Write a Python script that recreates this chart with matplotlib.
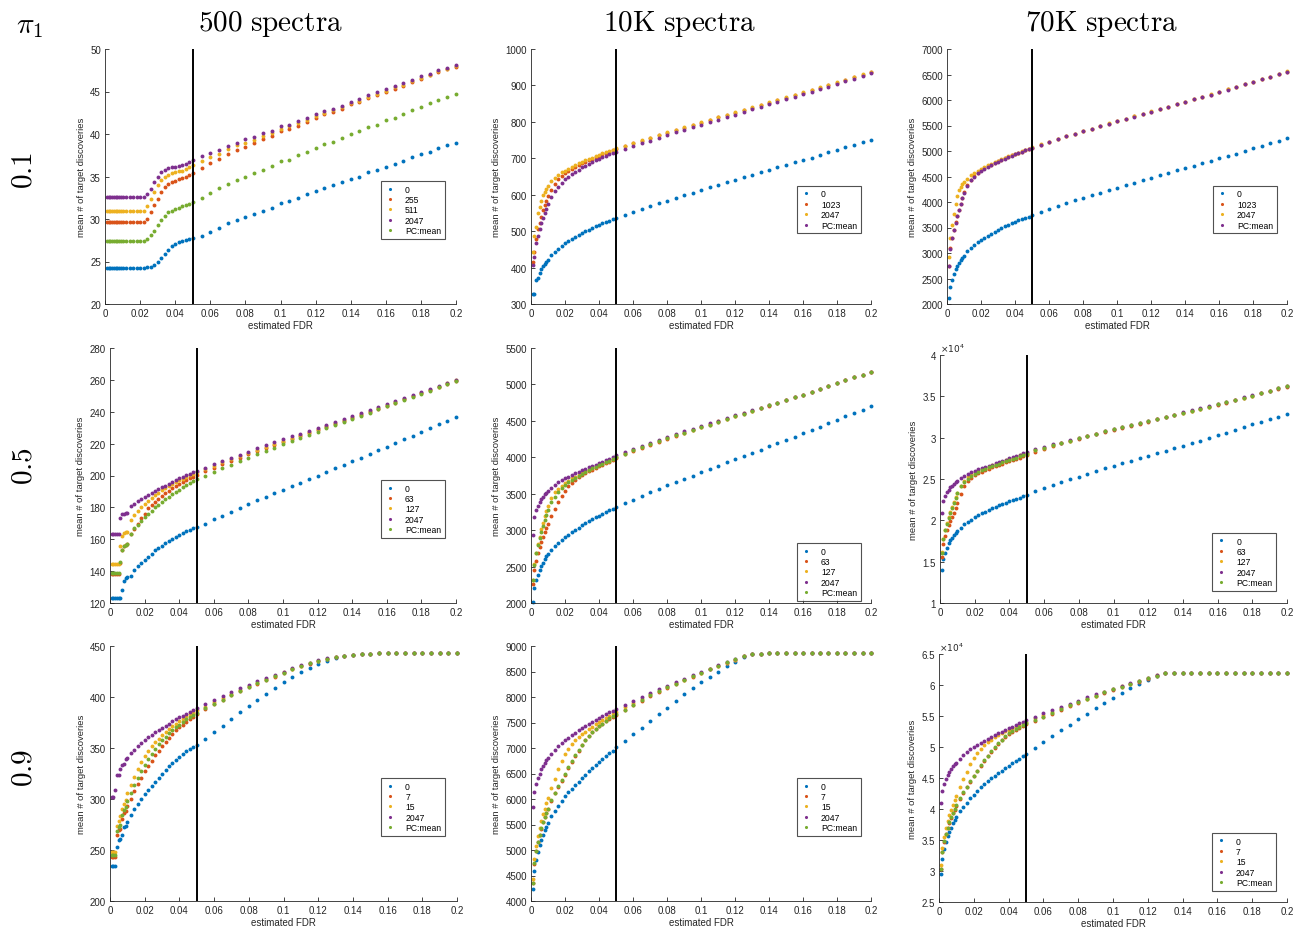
import matplotlib
matplotlib.use("Agg")
import matplotlib.pyplot as plt
from matplotlib.ticker import FuncFormatter

plt.rcParams['font.family'] = ['Liberation Sans', 'DejaVu Sans']
plt.rcParams['mathtext.fontset'] = 'cm'

# estimated FDR grid (x positions of every dot)
fdr = [0.001, 0.002, 0.003, 0.004, 0.005, 0.006, 0.007, 0.008, 0.009, 0.010,
       0.012, 0.014, 0.016, 0.018, 0.020, 0.022, 0.024, 0.026, 0.028, 0.030,
       0.032, 0.034, 0.036, 0.038, 0.040, 0.042, 0.044, 0.046, 0.048, 0.050,
       0.055, 0.060, 0.065, 0.070, 0.075, 0.080, 0.085, 0.090, 0.095, 0.100,
       0.105, 0.110, 0.115, 0.120, 0.125, 0.130, 0.135, 0.140, 0.145, 0.150,
       0.155, 0.160, 0.165, 0.170, 0.175, 0.180, 0.185, 0.190, 0.195, 0.200]

col_titles = ['500 spectra', '10K spectra', '70K spectra']
row_titles = ['0.1', '0.5', '0.9']
colors = ['#0072BD', '#D95319', '#EDB120', '#7E2F8E', '#77AC30']

# ---- 500 spectra, pi1 = 0.1 ----
leg_500_p1 = ['0', '255', '511', '2047', 'PC:mean']
s500_p1_0 = [24.2, 24.2, 24.2, 24.2, 24.2, 24.2, 24.2, 24.2, 24.2, 24.2,
             24.2, 24.2, 24.2, 24.2, 24.2, 24.2, 24.3, 24.4, 24.6, 24.9,
             25.4, 25.9, 26.4, 26.8, 27.1, 27.3, 27.4, 27.55, 27.7, 27.8,
             28.0, 28.5, 29.0, 29.5, 29.9, 30.2, 30.6, 31.0, 31.3, 31.9,
             32.1, 32.5, 32.9, 33.3, 33.7, 34.0, 34.3, 34.7, 35.0, 35.5,
             35.8, 36.1, 36.5, 36.8, 37.3, 37.7, 37.9, 38.3, 38.7, 38.9]
s500_p1_255 = [29.6, 29.6, 29.6, 29.6, 29.6, 29.6, 29.6, 29.6, 29.6, 29.6,
               29.6, 29.6, 29.6, 29.6, 29.6, 29.6, 30.0, 30.8, 31.6, 32.4,
               33.2, 33.8, 34.1, 34.3, 34.5, 34.7, 34.8, 35.0, 35.2, 35.4,
               36.0, 36.6, 37.1, 37.6, 38.1, 38.5, 38.9, 39.4, 39.8, 40.3,
               40.6, 41.0, 41.4, 41.9, 42.3, 42.6, 43.0, 43.5, 43.8, 44.2,
               44.6, 45.0, 45.3, 45.7, 46.1, 46.5, 46.9, 47.3, 47.6, 47.9]
s500_p1_511 = [30.9, 30.9, 30.9, 30.9, 30.9, 30.9, 30.9, 30.9, 30.9, 30.9,
               30.9, 30.9, 30.9, 30.9, 30.9, 30.9, 31.5, 32.3, 33.2, 34.0,
               34.6, 35.0, 35.2, 35.4, 35.5, 35.6, 35.7, 35.9, 36.1, 36.4,
               36.8, 37.3, 37.7, 38.2, 38.7, 39.0, 39.3, 39.8, 40.1, 40.6,
               40.9, 41.3, 41.7, 42.1, 42.5, 42.8, 43.2, 43.6, 43.9, 44.4,
               44.7, 45.1, 45.5, 45.8, 46.2, 46.6, 47.0, 47.4, 47.7, 48.0]
s500_p1_2047 = [32.6, 32.6, 32.6, 32.6, 32.6, 32.6, 32.6, 32.6, 32.6, 32.6,
                32.6, 32.6, 32.6, 32.6, 32.6, 32.6, 32.9, 33.5, 34.3, 35.0,
                35.5, 35.8, 36.0, 36.1, 36.1, 36.2, 36.3, 36.5, 36.7, 37.0,
                37.4, 37.8, 38.1, 38.6, 39.0, 39.4, 39.7, 40.1, 40.4, 40.9,
                41.1, 41.5, 41.9, 42.3, 42.7, 43.0, 43.3, 43.8, 44.1, 44.6,
                44.9, 45.3, 45.6, 46.0, 46.4, 46.8, 47.1, 47.5, 47.8, 48.1]
s500_p1_pc = [27.4, 27.4, 27.4, 27.4, 27.4, 27.4, 27.4, 27.4, 27.4, 27.4,
              27.4, 27.4, 27.4, 27.4, 27.4, 27.4, 27.6, 28.1, 28.6, 29.3,
              29.9, 30.4, 30.8, 31.0, 31.2, 31.3, 31.5, 31.6, 31.8, 32.0,
              32.5, 33.1, 33.6, 34.1, 34.6, 35.0, 35.4, 35.8, 36.2, 36.8,
              37.0, 37.5, 37.9, 38.4, 38.8, 39.1, 39.5, 40.0, 40.3, 40.8,
              41.1, 41.6, 41.9, 42.3, 42.8, 43.2, 43.6, 44.0, 44.4, 44.7]

# ---- 500 spectra, pi1 = 0.5 ----
leg_p5 = ['0', '63', '127', '2047', 'PC:mean']
s500_p5_0 = [123, 123, 123, 123, 123, 123, 128, 134, 136, 136.5,
             137, 140.5, 143.5, 145, 147, 149, 151, 153, 154.5, 156,
             157.5, 159, 160.3, 161.5, 162.8, 164, 165, 166, 166.8, 167.5,
             169.7, 172.4, 174.9, 177.3, 179.7, 182.2, 184.4, 186.6, 188.8, 191.1,
             193.3, 195.5, 197.7, 200.0, 202.3, 204.6, 206.8, 209.0, 211.2, 213.5,
             215.8, 218.0, 220.3, 222.7, 225.0, 227.4, 229.7, 232.1, 234.4, 236.8]
s500_p5_63 = [138, 138, 138, 138, 138, 145, 153, 156, 156.5, 157,
              163.5, 166.5, 169.5, 173.5, 176, 179.3, 181.5, 183.5, 185.4, 187.2,
              188.8, 190.4, 191.9, 193.3, 194.6, 195.9, 197.1, 198.2, 199.3, 200.3,
              202.6, 204.9, 207.0, 209.1, 211.2, 213.2, 215.2, 217.2, 219.1, 221.1,
              223.0, 224.9, 226.8, 228.7, 230.6, 232.5, 234.4, 236.3, 238.2, 240.1,
              242.0, 243.9, 245.8, 247.8, 249.7, 251.7, 253.6, 255.6, 257.6, 259.6]
s500_p5_127 = [144.3, 144.3, 144.3, 144.3, 144.3, 155.5, 162, 164, 164.4, 164.8,
               172, 175.5, 177.8, 180.2, 182.3, 184.2, 186, 187.6, 189.2, 190.6,
               192, 193.3, 194.6, 195.8, 197, 198.1, 199.1, 200.1, 201, 201.9,
               204.0, 206.2, 208.2, 210.2, 212.2, 214.2, 216.2, 218.1, 220.0, 221.9,
               223.8, 225.6, 227.4, 229.3, 231.1, 233.0, 234.8, 236.7, 238.5, 240.4,
               242.3, 244.2, 246.1, 248.0, 249.9, 251.9, 253.8, 255.8, 257.8, 259.8]
s500_p5_2047 = [163.5, 163.5, 163.5, 163.5, 163.5, 173.5, 175.8, 176, 176.2, 176.5,
                181, 182, 184, 185.5, 186.8, 188, 189.2, 190.3, 191.4, 192.5,
                193.6, 194.8, 196, 197.1, 198.2, 199.2, 200.1, 201, 201.9, 202.8,
                204.9, 207.0, 209.0, 211.0, 213.0, 215.0, 217.0, 218.9, 220.8, 222.7,
                224.5, 226.3, 228.1, 229.9, 231.7, 233.5, 235.3, 237.2, 239.0, 240.9,
                242.8, 244.6, 246.5, 248.4, 250.3, 252.3, 254.2, 256.2, 258.1, 260.1]
s500_p5_pc = [139, 139, 139, 139, 139, 146, 153.5, 156, 156.5, 157,
              163, 167, 169, 171.5, 174, 176, 178, 180, 181.8, 183.5,
              185.2, 186.8, 188.3, 189.8, 191.2, 192.6, 194, 195.3, 196.6, 197.8,
              200.0, 202.5, 204.7, 206.9, 209.0, 211.2, 213.3, 215.4, 217.4, 219.5,
              221.6, 223.6, 225.6, 227.6, 229.6, 231.6, 233.6, 235.6, 237.5, 239.5,
              241.5, 243.5, 245.4, 247.4, 249.4, 251.3, 253.3, 255.3, 257.3, 259.3]

# ---- 500 spectra, pi1 = 0.9 ----
leg_p9 = ['0', '7', '15', '2047', 'PC:mean']
s500_p9_0 = [234.5, 234.5, 234.5, 253, 260, 260.5, 265, 273, 274, 277.5,
             284, 290, 295, 300, 304.5, 309, 313, 317, 321, 325,
             328.5, 332, 335.5, 338.5, 341.5, 344.5, 347, 349, 350.5, 352.5,
             359, 365.5, 372, 378.5, 385, 391, 397, 403, 409, 414.5,
             419.5, 424.5, 428.5, 432.5, 435.5, 438, 440, 441, 442, 442.5,
             442.7, 442.7, 442.7, 442.7, 442.7, 442.7, 442.7, 442.7, 442.7, 442.7]
s500_p9_7 = [243, 243, 243, 265, 270, 271, 280, 286, 288, 293,
             300, 308, 315, 321, 327, 332.5, 337.5, 343, 347.5, 352,
             356, 360, 364, 367.5, 370.5, 373, 375.5, 378, 380.5, 383,
             388, 393, 397.5, 401.5, 405.5, 409.5, 413, 416.5, 420, 423.5,
             427, 430, 432.8, 435.3, 437.3, 439, 440.3, 441.2, 442, 442.5,
             442.7, 442.7, 442.7, 442.7, 442.7, 442.7, 442.7, 442.7, 442.7, 442.7]
s500_p9_15 = [248, 248, 248, 273.5, 278, 283, 290.5, 295.5, 299, 306,
              314, 322, 329.5, 336, 342, 347, 351.5, 355.5, 359, 362.5,
              365.5, 368.5, 371.5, 374, 376.5, 378.8, 381, 383, 385, 387,
              390.5, 395, 399, 403, 407, 410.5, 414, 417.5, 421, 424.5,
              427.5, 430.5, 433, 435.5, 437.5, 439, 440.3, 441.2, 442, 442.5,
              442.7, 442.7, 442.7, 442.7, 442.7, 442.7, 442.7, 442.7, 442.7, 442.7]
s500_p9_2047 = [302, 302, 309, 323.5, 324, 329, 333.5, 334, 339, 340.5,
                345, 348.5, 352, 355, 358, 360.5, 363, 365.5, 368, 370,
                372, 374, 376, 378, 380, 381.8, 383.6, 385.4, 387.2, 389,
                393, 397, 401, 405, 408.5, 412, 415.5, 418.5, 422, 425,
                428, 431, 433.5, 436, 438, 439.5, 440.5, 441.3, 442, 442.5,
                442.7, 442.7, 442.7, 442.7, 442.7, 442.7, 442.7, 442.7, 442.7, 442.7]
s500_p9_pc = [245, 245, 245, 269, 272.5, 275, 284.5, 289.5, 292.5, 298,
              305.5, 313.5, 321, 327.5, 333.5, 339, 344, 349, 353.5, 357.5,
              361, 364.5, 367.5, 370.5, 373, 375.5, 378, 380, 382, 384.5,
              389, 393.5, 397.5, 402, 406, 410, 413.5, 417, 420.5, 424,
              427.3, 430.3, 433, 435.5, 437.5, 439.2, 440.5, 441.3, 442, 442.5,
              442.7, 442.7, 442.7, 442.7, 442.7, 442.7, 442.7, 442.7, 442.7, 442.7]

# ---- 10K spectra, pi1 = 0.1 ----
leg_big_p1 = ['0', '1023', '2047', 'PC:mean']
s10k_p1_0 = [327, 327, 365, 372, 385, 396, 403, 410, 416, 422,
             434, 444, 452, 460, 467, 473, 479, 485, 490, 495,
             500, 504, 509, 513, 517, 521, 525, 529, 533, 537,
             545, 553, 561, 569, 577, 584, 591, 599, 606, 613,
             620, 627, 634, 641, 648, 655, 662, 668, 675, 682,
             689, 696, 702, 709, 716, 723, 730, 737, 744, 751]
s10k_p1_1023 = [415, 442, 478, 505, 521, 540, 557, 571, 583, 596,
                614, 630, 643, 652, 659, 665, 671, 676, 681, 686,
                690, 695, 699, 703, 707, 711, 715, 718, 722, 726,
                733, 741, 748, 756, 763, 770, 777, 784, 791, 798,
                805, 812, 819, 825, 832, 839, 846, 853, 859, 866,
                873, 880, 887, 894, 901, 908, 915, 922, 930, 937]
s10k_p1_2047 = [442, 487, 512, 549, 566, 582, 599, 608, 617, 625,
                637, 647, 655, 661, 666, 671, 676, 681, 686, 690,
                694, 698, 702, 706, 710, 714, 717, 720, 724, 727,
                734, 742, 749, 757, 764, 771, 778, 785, 792, 799,
                806, 813, 820, 826, 833, 840, 847, 854, 860, 867,
                874, 881, 888, 895, 902, 909, 916, 923, 931, 938]
s10k_p1_pc = [408, 428, 468, 488, 505, 523, 537, 551, 562, 574,
              593, 609, 622, 633, 642, 650, 657, 663, 669, 675,
              680, 685, 690, 694, 699, 703, 707, 711, 714, 718,
              725, 733, 741, 748, 756, 763, 771, 778, 785, 792,
              799, 806, 813, 820, 827, 834, 841, 848, 855, 862,
              869, 876, 883, 890, 897, 905, 912, 919, 927, 934]

# ---- 10K spectra, pi1 = 0.5 ----
s10k_p5_0 = [2020, 2200, 2310, 2385, 2450, 2510, 2555, 2600, 2640, 2675,
             2730, 2780, 2830, 2870, 2905, 2940, 2975, 3005, 3035, 3065,
             3095, 3120, 3150, 3175, 3200, 3225, 3250, 3270, 3295, 3320,
             3370, 3420, 3470, 3520, 3570, 3615, 3660, 3705, 3750, 3795,
             3840, 3885, 3930, 3975, 4020, 4060, 4105, 4150, 4195, 4240,
             4285, 4330, 4375, 4420, 4465, 4510, 4560, 4605, 4655, 4700]
s10k_p5_63 = [2260, 2450, 2580, 2690, 2770, 2840, 2910, 2970, 3030, 3090,
              3190, 3290, 3380, 3470, 3540, 3600, 3650, 3690, 3725, 3755,
              3780, 3805, 3830, 3855, 3875, 3900, 3920, 3940, 3965, 3990,
              4040, 4085, 4130, 4175, 4215, 4255, 4295, 4330, 4370, 4410,
              4450, 4490, 4525, 4565, 4600, 4640, 4675, 4710, 4750, 4785,
              4825, 4860, 4900, 4940, 4980, 5020, 5060, 5100, 5135, 5175]
s10k_p5_127 = [2320, 2530, 2690, 2810, 2910, 3010, 3100, 3190, 3260, 3330,
               3440, 3520, 3570, 3610, 3650, 3680, 3710, 3735, 3760, 3785,
               3810, 3830, 3855, 3875, 3895, 3915, 3935, 3955, 3980, 4005,
               4055, 4100, 4145, 4185, 4225, 4265, 4305, 4340, 4380, 4420,
               4455, 4495, 4530, 4570, 4605, 4640, 4675, 4715, 4750, 4785,
               4825, 4860, 4900, 4940, 4980, 5020, 5060, 5100, 5135, 5175]
s10k_p5_2047 = [2940, 3180, 3270, 3335, 3385, 3425, 3460, 3490, 3515, 3540,
                3585, 3620, 3655, 3685, 3710, 3735, 3760, 3780, 3800, 3820,
                3840, 3860, 3880, 3900, 3920, 3940, 3960, 3980, 4000, 4030,
                4075, 4120, 4160, 4200, 4240, 4280, 4320, 4355, 4390, 4430,
                4465, 4500, 4535, 4575, 4610, 4645, 4680, 4715, 4750, 4790,
                4825, 4860, 4900, 4940, 4980, 5020, 5060, 5100, 5135, 5175]
s10k_p5_pc = [2310, 2520, 2680, 2790, 2890, 2980, 3060, 3140, 3210, 3270,
              3380, 3460, 3530, 3580, 3620, 3655, 3690, 3720, 3750, 3775,
              3800, 3825, 3850, 3870, 3890, 3910, 3930, 3950, 3975, 4000,
              4050, 4095, 4140, 4180, 4220, 4260, 4300, 4335, 4375, 4415,
              4450, 4490, 4530, 4565, 4600, 4640, 4675, 4715, 4750, 4785,
              4825, 4860, 4900, 4940, 4980, 5020, 5060, 5100, 5135, 5175]

# ---- 10K spectra, pi1 = 0.9 ----
s10k_p9_0 = [4230, 4580, 4800, 4970, 5100, 5200, 5300, 5390, 5460, 5530,
             5660, 5770, 5870, 5960, 6050, 6130, 6200, 6270, 6340, 6410,
             6480, 6540, 6600, 6660, 6720, 6780, 6840, 6900, 6950, 7010,
             7140, 7270, 7400, 7530, 7660, 7790, 7920, 8050, 8170, 8290,
             8400, 8500, 8600, 8690, 8780, 8835, 8850, 8855, 8855, 8855,
             8855, 8855, 8855, 8855, 8855, 8855, 8855, 8855, 8855, 8855]
s10k_p9_7 = [4360, 4730, 4980, 5150, 5300, 5420, 5540, 5640, 5720, 5800,
             5970, 6110, 6240, 6360, 6480, 6600, 6720, 6840, 6950, 7050,
             7150, 7240, 7310, 7380, 7430, 7480, 7530, 7570, 7610, 7650,
             7750, 7840, 7930, 8020, 8100, 8180, 8255, 8330, 8400, 8470,
             8540, 8610, 8675, 8735, 8795, 8840, 8850, 8855, 8855, 8855,
             8855, 8855, 8855, 8855, 8855, 8855, 8855, 8855, 8855, 8855]
s10k_p9_15 = [4430, 4830, 5080, 5270, 5430, 5570, 5700, 5810, 5920, 6020,
              6210, 6400, 6580, 6740, 6880, 6990, 7080, 7150, 7210, 7270,
              7320, 7370, 7420, 7465, 7510, 7550, 7590, 7630, 7665, 7700,
              7800, 7890, 7970, 8050, 8120, 8195, 8265, 8340, 8410, 8480,
              8545, 8610, 8675, 8735, 8795, 8840, 8850, 8855, 8855, 8855,
              8855, 8855, 8855, 8855, 8855, 8855, 8855, 8855, 8855, 8855]
s10k_p9_2047 = [5840, 6140, 6290, 6410, 6500, 6580, 6650, 6710, 6760, 6800,
                6880, 6960, 7030, 7090, 7150, 7200, 7250, 7300, 7345, 7390,
                7435, 7475, 7515, 7555, 7595, 7630, 7665, 7700, 7735, 7770,
                7850, 7930, 8005, 8080, 8150, 8220, 8290, 8360, 8425, 8490,
                8555, 8620, 8680, 8740, 8800, 8840, 8850, 8855, 8855, 8855,
                8855, 8855, 8855, 8855, 8855, 8855, 8855, 8855, 8855, 8855]
s10k_p9_pc = [4360, 4740, 4980, 5160, 5300, 5430, 5540, 5640, 5730, 5810,
              5980, 6120, 6250, 6380, 6500, 6630, 6740, 6860, 6970, 7060,
              7160, 7240, 7310, 7380, 7430, 7480, 7530, 7580, 7620, 7660,
              7750, 7840, 7940, 8030, 8110, 8190, 8260, 8340, 8410, 8480,
              8545, 8615, 8680, 8740, 8800, 8840, 8850, 8855, 8855, 8855,
              8855, 8855, 8855, 8855, 8855, 8855, 8855, 8855, 8855, 8855]

# ---- 70K spectra, pi1 = 0.1 ----
s70k_p1_0 = [2110, 2330, 2480, 2590, 2680, 2750, 2810, 2860, 2900, 2950,
             3030, 3100, 3160, 3210, 3260, 3300, 3340, 3380, 3420, 3450,
             3490, 3520, 3550, 3580, 3610, 3640, 3660, 3690, 3710, 3740,
             3800, 3860, 3920, 3975, 4030, 4080, 4130, 4180, 4230, 4280,
             4330, 4380, 4430, 4480, 4525, 4575, 4620, 4665, 4715, 4760,
             4810, 4855, 4900, 4950, 5000, 5050, 5100, 5150, 5200, 5250]
s70k_p1_1023 = [2750, 3090, 3300, 3460, 3600, 3730, 3850, 3970, 4080, 4190,
                4330, 4440, 4510, 4570, 4620, 4660, 4700, 4735, 4765, 4795,
                4825, 4855, 4885, 4912, 4938, 4963, 4988, 5013, 5042, 5067,
                5127, 5182, 5237, 5287, 5337, 5387, 5437, 5487, 5537, 5582,
                5632, 5677, 5727, 5772, 5822, 5867, 5917, 5962, 6012, 6062,
                6107, 6157, 6207, 6257, 6307, 6357, 6407, 6457, 6507, 6557]
s70k_p1_2047 = [2920, 3290, 3550, 3770, 3970, 4120, 4230, 4300, 4350, 4390,
                4460, 4520, 4570, 4610, 4650, 4690, 4720, 4750, 4780, 4810,
                4840, 4870, 4900, 4920, 4950, 4970, 5000, 5020, 5045, 5070,
                5130, 5185, 5240, 5290, 5340, 5390, 5440, 5490, 5540, 5585,
                5635, 5680, 5730, 5775, 5825, 5870, 5920, 5965, 6015, 6065,
                6110, 6160, 6210, 6260, 6310, 6360, 6410, 6460, 6510, 6560]
s70k_p1_pc = [2740, 3080, 3290, 3450, 3590, 3720, 3840, 3960, 4070, 4180,
              4320, 4430, 4500, 4560, 4610, 4650, 4690, 4730, 4760, 4790,
              4820, 4850, 4880, 4910, 4935, 4960, 4985, 5010, 5040, 5065,
              5125, 5180, 5235, 5285, 5335, 5385, 5435, 5485, 5535, 5580,
              5630, 5675, 5725, 5770, 5820, 5865, 5915, 5960, 6010, 6060,
              6105, 6155, 6205, 6255, 6305, 6355, 6405, 6455, 6505, 6555]

# ---- 70K spectra, pi1 = 0.5 ----
s70k_p5_0 = [14000, 15300, 16100, 16700, 17200, 17600, 17900, 18200, 18500, 18700,
             19100, 19500, 19800, 20100, 20350, 20600, 20850, 21050, 21250, 21450,
             21650, 21800, 22000, 22150, 22300, 22450, 22600, 22750, 22900, 23100,
             23600, 23950, 24300, 24650, 25000, 25300, 25650, 25950, 26300, 26550,
             26900, 27200, 27500, 27800, 28100, 28400, 28700, 29000, 29300, 29650,
             30000, 30300, 30600, 30900, 31250, 31600, 31900, 32200, 32550, 32900]
s70k_p5_63 = [15600, 17100, 18100, 18800, 19400, 19900, 20400, 20900, 21500, 22100,
              23200, 24100, 24700, 25100, 25450, 25700, 25900, 26100, 26250, 26400,
              26550, 26700, 26850, 27000, 27150, 27300, 27450, 27600, 27750, 27900,
              28300, 28650, 29000, 29300, 29550, 29850, 30150, 30400, 30700, 30950,
              31200, 31450, 31700, 31950, 32200, 32450, 32700, 32950, 33200, 33450,
              33700, 34000, 34250, 34500, 34800, 35050, 35350, 35600, 35900, 36150]
s70k_p5_127 = [16200, 17800, 18800, 19700, 20400, 21000, 21600, 22200, 22800, 23300,
               24200, 24800, 25250, 25550, 25800, 26000, 26200, 26350, 26500, 26650,
               26800, 26950, 27100, 27250, 27400, 27550, 27700, 27850, 28000, 28150,
               28500, 28800, 29150, 29350, 29650, 29950, 30200, 30450, 30750, 31000,
               31250, 31500, 31750, 32000, 32250, 32500, 32750, 33000, 33250, 33500,
               33750, 34050, 34300, 34550, 34850, 35100, 35400, 35650, 35950, 36200]
s70k_p5_2047 = [20900, 22300, 22900, 23400, 23700, 24000, 24200, 24400, 24600, 24800,
                25100, 25350, 25600, 25800, 26000, 26150, 26300, 26450, 26600, 26750,
                26900, 27050, 27200, 27350, 27500, 27650, 27800, 27950, 28100, 28250,
                28600, 28900, 29200, 29400, 29700, 30000, 30250, 30500, 30800, 31050,
                31300, 31550, 31800, 32050, 32300, 32550, 32800, 33050, 33300, 33550,
                33800, 34100, 34350, 34600, 34900, 35150, 35450, 35700, 36000, 36250]
s70k_p5_pc = [16100, 17700, 18800, 19600, 20300, 20900, 21500, 22100, 22700, 23300,
              24100, 24600, 25000, 25350, 25600, 25850, 26050, 26200, 26400, 26550,
              26700, 26850, 27000, 27150, 27300, 27450, 27600, 27750, 27900, 28050,
              28450, 28750, 29100, 29350, 29600, 29900, 30200, 30450, 30750, 31000,
              31250, 31500, 31750, 32000, 32250, 32500, 32750, 33000, 33250, 33500,
              33750, 34050, 34300, 34550, 34850, 35100, 35400, 35650, 35950, 36200]

# ---- 70K spectra, pi1 = 0.9 ----
s70k_p9_0 = [29500, 32000, 33600, 34700, 35600, 36300, 37000, 37700, 38200, 38700,
             39600, 40300, 41000, 41700, 42300, 42900, 43500, 44000, 44500, 45000,
             45400, 45800, 46200, 46600, 47000, 47400, 47700, 48100, 48500, 48900,
             49900, 50800, 51700, 52700, 53600, 54500, 55400, 56300, 57100, 57900,
             58700, 59500, 60200, 60800, 61500, 61900, 61900, 61900, 61900, 61900,
             61900, 61900, 61900, 61900, 61900, 61900, 61900, 61900, 61900, 61900]
s70k_p9_7 = [30300, 33000, 34700, 35900, 36900, 37800, 38600, 39300, 39900, 40500,
             41600, 42600, 43500, 44400, 45300, 46100, 47000, 47800, 48500, 49200,
             49900, 50500, 51100, 51600, 52100, 52500, 52800, 53100, 53400, 53700,
             54200, 54800, 55400, 56000, 56600, 57100, 57700, 58200, 58700, 59200,
             59600, 60100, 60500, 61000, 61400, 61900, 61900, 61900, 61900, 61900,
             61900, 61900, 61900, 61900, 61900, 61900, 61900, 61900, 61900, 61900]
s70k_p9_15 = [31000, 33700, 35500, 36900, 38000, 39000, 39800, 40700, 41400, 42100,
              43500, 44800, 46000, 47200, 48200, 49000, 49700, 50300, 50800, 51200,
              51600, 52000, 52300, 52600, 52800, 53100, 53300, 53600, 53800, 54100,
              54600, 55100, 55700, 56300, 56800, 57300, 57800, 58300, 58800, 59300,
              59800, 60200, 60700, 61100, 61600, 61900, 61900, 61900, 61900, 61900,
              61900, 61900, 61900, 61900, 61900, 61900, 61900, 61900, 61900, 61900]
s70k_p9_2047 = [41000, 42900, 44000, 44900, 45500, 46000, 46500, 46900, 47200, 47500,
                48100, 48700, 49200, 49600, 50000, 50300, 50700, 51000, 51300, 51600,
                51900, 52200, 52500, 52800, 53000, 53300, 53600, 53800, 54100, 54300,
                54900, 55500, 56000, 56500, 57000, 57500, 58000, 58500, 58900, 59400,
                59800, 60300, 60700, 61100, 61600, 61900, 61900, 61900, 61900, 61900,
                61900, 61900, 61900, 61900, 61900, 61900, 61900, 61900, 61900, 61900]
s70k_p9_pc = [30400, 33100, 34800, 36000, 37000, 37900, 38700, 39400, 40000, 40600,
              41700, 42700, 43600, 44500, 45400, 46200, 47100, 47900, 48600, 49300,
              50000, 50600, 51200, 51700, 52200, 52600, 52900, 53200, 53500, 53800,
              54300, 54900, 55500, 56100, 56700, 57200, 57800, 58300, 58800, 59300,
              59700, 60200, 60600, 61100, 61500, 61900, 61900, 61900, 61900, 61900,
              61900, 61900, 61900, 61900, 61900, 61900, 61900, 61900, 61900, 61900]

# y ticks of each panel
yt_500_p1 = [20, 25, 30, 35, 40, 45, 50]
yt_500_p5 = [120, 140, 160, 180, 200, 220, 240, 260, 280]
yt_500_p9 = [200, 250, 300, 350, 400, 450]
yt_10k_p1 = [300, 400, 500, 600, 700, 800, 900, 1000]
yt_10k_p5 = [2000, 2500, 3000, 3500, 4000, 4500, 5000, 5500]
yt_10k_p9 = [4000, 4500, 5000, 5500, 6000, 6500, 7000, 7500, 8000, 8500, 9000]
yt_70k_p1 = [2000, 2500, 3000, 3500, 4000, 4500, 5000, 5500, 6000, 6500, 7000]
yt_70k_p5 = [10000, 15000, 20000, 25000, 30000, 35000, 40000]
yt_70k_p9 = [25000, 30000, 35000, 40000, 45000, 50000, 55000, 60000, 65000]
xt = [0, 0.02, 0.04, 0.06, 0.08, 0.1, 0.12, 0.14, 0.16, 0.18, 0.2]

W, H = 1293, 928
fig = plt.figure(figsize=(W / 100, H / 100), dpi=100)

# (row, col, axes box in px: left, top, right, bottom, legend anchor, legend labels, series, yticks, x1e4)
panels = [
    (0, 0, (105, 50, 456, 305), (0.786, 0.482), leg_500_p1,
     [s500_p1_0, s500_p1_255, s500_p1_511, s500_p1_2047, s500_p1_pc], yt_500_p1, False),
    (1, 0, (110, 349, 456, 604), (0.783, 0.482), leg_p5,
     [s500_p5_0, s500_p5_63, s500_p5_127, s500_p5_2047, s500_p5_pc], yt_500_p5, False),
    (2, 0, (110, 647, 457, 902), (0.781, 0.482), leg_p9,
     [s500_p9_0, s500_p9_7, s500_p9_15, s500_p9_2047, s500_p9_pc], yt_500_p9, False),
    (0, 1, (531, 50, 871, 305), (0.782, 0.463), leg_big_p1,
     [s10k_p1_0, s10k_p1_1023, s10k_p1_2047, s10k_p1_pc], yt_10k_p1, False),
    (1, 1, (531, 349, 871, 604), (0.782, 0.235), leg_p5,
     [s10k_p5_0, s10k_p5_63, s10k_p5_127, s10k_p5_2047, s10k_p5_pc], yt_10k_p5, False),
    (2, 1, (531, 647, 871, 902), (0.782, 0.482), leg_p9,
     [s10k_p9_0, s10k_p9_7, s10k_p9_15, s10k_p9_2047, s10k_p9_pc], yt_10k_p9, False),
    (0, 2, (947, 50, 1287, 305), (0.782, 0.463), leg_big_p1,
     [s70k_p1_0, s70k_p1_1023, s70k_p1_2047, s70k_p1_pc], yt_70k_p1, False),
    (1, 2, (940, 356, 1287, 604), (0.784, 0.282), leg_p5,
     [s70k_p5_0, s70k_p5_63, s70k_p5_127, s70k_p5_2047, s70k_p5_pc], yt_70k_p5, True),
    (2, 2, (939, 655, 1287, 903), (0.784, 0.278), leg_p9,
     [s70k_p9_0, s70k_p9_7, s70k_p9_15, s70k_p9_2047, s70k_p9_pc], yt_70k_p9, True),
]

axcol = '#262626'
for row, col, box, leg_xy, labels, series, yticks, x1e4 in panels:
    l, t, r, b = box
    ax = fig.add_axes([l / W, 1 - b / H, (r - l) / W, (b - t) / H])
    for k, ys in enumerate(series):
        ax.plot(fdr, ys, 'o', color=colors[k], ms=2.8, mew=0, clip_on=False,
                label=labels[k])
    ax.axvline(0.05, color='k', lw=1.4)
    ax.set_xlim(0, 0.2)
    ax.set_ylim(yticks[0], yticks[-1])
    ax.set_xticks(xt)
    ax.set_yticks(yticks)
    ax.xaxis.set_major_formatter(FuncFormatter(lambda v, p: '%g' % round(v, 3)))
    if x1e4:
        ax.yaxis.set_major_formatter(FuncFormatter(lambda v, p: '%g' % (v / 1e4)))
        ax.text(0.0, 1.005, r'$\times10^{4}$', transform=ax.transAxes,
                fontsize=6.5, color=axcol, va='bottom', ha='left',
                math_fontfamily='dejavusans')
    for s in ['top', 'right']:
        ax.spines[s].set_visible(False)
    for s in ['left', 'bottom']:
        ax.spines[s].set_color(axcol)
        ax.spines[s].set_linewidth(0.6)
    ax.tick_params(direction='in', length=3, width=0.6, colors=axcol,
                   labelsize=7, pad=3)
    ax.set_xlabel('estimated FDR', fontsize=7, color=axcol, labelpad=1)
    ax.set_ylabel('mean # of target discoveries', fontsize=6.8, color=axcol,
                  labelpad=3)
    leg = ax.legend(loc='upper left', bbox_to_anchor=leg_xy, fontsize=6.2,
                    frameon=True, fancybox=False, edgecolor=axcol,
                    handlelength=1.3, handletextpad=1.1, borderpad=0.4,
                    labelspacing=0.17, borderaxespad=0, markerscale=0.8)
    leg.get_frame().set_linewidth(0.8)

# column and row headers
for c, (txt, cx) in enumerate(zip(col_titles, [270, 680, 1102])):
    fig.text(cx / W, 1 - 24 / H, r'$\mathrm{%s}$' % txt.replace(' ', r'\ '),
             ha='center', va='center', fontsize=21)
for txt, cy in zip(row_titles, [170, 466, 768]):
    fig.text(23 / W, 1 - cy / H, r'$%s$' % txt, rotation=90,
             ha='center', va='center', fontsize=21)
fig.text(30 / W, 1 - 26 / H, r'$\pi_1$', ha='center', va='center', fontsize=21)

fig.savefig('out.png', dpi=100)
